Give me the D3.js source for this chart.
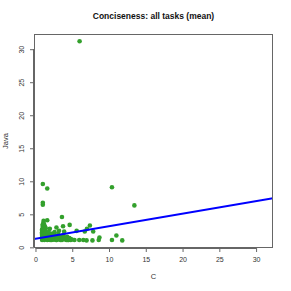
<!DOCTYPE html>
<html><head><meta charset="utf-8">
<script src="https://cdn.jsdelivr.net/npm/d3@7"></script>
<style>body{margin:0;background:#fff}svg{display:block}</style>
</head><body>
<script>
const title = "Conciseness: all tasks (mean)";
const xLabel = "C";
const yLabel = "Java";
const xTicks = [0,5,10,15,20,25,30];
const yTicks = [0,5,10,15,20,25,30];
// C values
const cVals = [6.0,1.0,1.6,1.0,1.0,10.4,13.45,1.6,1.1,3.6,4.65,3.75,2.85,1.95,
 5.6,6.7,7.0,7.4,7.85,8.7,8.6,11.0,10.4,11.8,3.9,5.3,5.95,6.5,6.95,7.75,
 0.9,0.9,0.9,0.9,0.9,0.9,0.9,0.9,0.9,1.0,1.0,1.0,1.0,1.1,1.2,1.3,1.4,1.2,1.4,1.5,1.2,1.3,1.2,1.4,1.2,
 1.6,1.6,1.7,1.8,2.0,2.1,2.2,2.3,2.4,2.5,2.6,2.7,2.8,3.0,3.1,3.2,3.3,3.5,3.6,3.8,4.0,4.2,4.3,4.5,4.7,4.8,
 1.8,2.0,2.2,2.4,2.6,2.9,3.3,3.4,3.7,4.1,4.4,4.6,4.9,1.5,1.9,2.5,2.9,3.9,4.2,4.6];
// Java values
const javaVals = [31.2,9.6,8.9,6.75,6.45,9.1,6.35,4.1,4.0,4.6,3.4,3.2,3.0,2.8,
 2.5,2.4,2.8,3.3,2.4,1.5,1.1,1.8,1.1,1.05,2.4,1.1,1.1,1.1,1.05,1.05,
 1.1,1.3,1.5,1.7,1.9,2.1,2.3,2.5,2.7,2.9,3.1,3.3,3.5,3.7,3.4,3.1,2.9,2.6,2.4,2.2,2.0,1.8,1.5,1.3,1.1,
 1.1,1.6,1.9,2.3,1.4,1.8,1.1,2.1,1.5,1.2,2.3,1.7,1.1,1.4,2.0,2.5,1.2,1.6,1.1,1.9,1.3,1.1,1.6,1.1,1.3,1.1,
 1.2,1.1,1.5,1.2,1.3,1.1,1.5,1.1,1.3,1.2,1.1,1.4,1.2,1.4,1.2,1.7,1.3,1.5,1.4,1.2];
const fitIntercept = 1.3;
const fitSlope = 0.19;

const W = 291, H = 291;
const m = {left:34, top:34, right:273, bottom:248};
const svg = d3.select("body").append("svg").attr("width",W).attr("height",H)
  .style("font-family","'Liberation Sans', Arial, sans-serif");
const x = d3.scaleLinear().domain([-0.2,32.3]).range([m.left,m.right]);
const y = d3.scaleLinear().domain([-0.1,32.3]).range([m.bottom,m.top]);

svg.append("text").attr("x",(m.left+m.right)/2).attr("y",19).attr("text-anchor","middle")
  .attr("font-weight","bold").attr("font-size",8.5).attr("fill","#111").text(title);

const pts = cVals.map((c,i)=>({c, j: javaVals[i]}));
svg.append("g").selectAll("circle").data(pts).join("circle")
  .attr("cx",d=>x(d.c)).attr("cy",d=>y(d.j)).attr("r",2.3).attr("fill","#33a02c");

svg.append("defs").append("clipPath").attr("id","clip").append("rect")
  .attr("x",m.left).attr("y",m.top).attr("width",m.right-m.left).attr("height",m.bottom-m.top);
const xd = x.domain();
svg.append("line").attr("clip-path","url(#clip)")
  .attr("x1",x(xd[0])).attr("y1",y(fitIntercept+fitSlope*xd[0]))
  .attr("x2",x(xd[1])).attr("y2",y(fitIntercept+fitSlope*xd[1]))
  .attr("stroke","#0000ff").attr("stroke-width",2);

svg.append("rect").attr("x",m.left+0.5).attr("y",m.top+0.5).attr("width",m.right-m.left-1)
  .attr("height",m.bottom-m.top-1).attr("fill","none").attr("stroke","#666").attr("stroke-width",1);

const xa = svg.append("g").attr("transform",`translate(0,${m.bottom})`)
  .call(d3.axisBottom(x).tickValues(xTicks).tickSize(4).tickPadding(5).tickSizeOuter(0));
xa.select(".domain").attr("d",`M${x(0)},0.5H${x(30)}`).attr("stroke","#666");
xa.selectAll(".tick line").attr("stroke","#666");
xa.selectAll("text").attr("font-size",7).attr("fill","#333").attr("font-family","'Liberation Sans', Arial, sans-serif");

const ya = svg.append("g").attr("transform",`translate(${m.left},0)`)
  .call(d3.axisLeft(y).tickValues(yTicks).tickSize(4).tickSizeOuter(0));
ya.select(".domain").attr("d",`M-0.5,${y(0)}V${y(30)}`).attr("stroke","#666");
ya.selectAll(".tick line").attr("stroke","#666");
ya.selectAll("text").attr("font-size",7).attr("fill","#333").attr("font-family","'Liberation Sans', Arial, sans-serif")
  .attr("text-anchor","middle").attr("x",0).attr("dy",0)
  .attr("transform","translate(-10,0) rotate(-90)");

svg.append("text").attr("x",(m.left+m.right)/2).attr("y",279).attr("text-anchor","middle")
  .attr("font-size",7.5).attr("fill","#333").text(xLabel);
svg.append("text").attr("transform",`translate(8,${(m.top+m.bottom)/2}) rotate(-90)`)
  .attr("text-anchor","middle").attr("font-size",7.5).attr("fill","#333").text(yLabel);
</script>
</body></html>
